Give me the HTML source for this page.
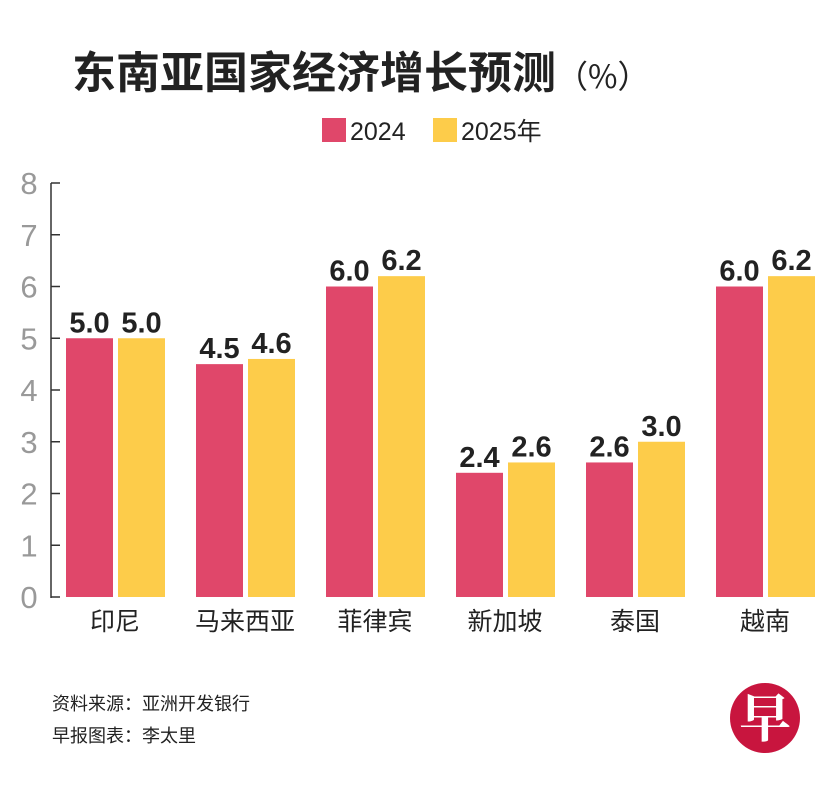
<!DOCTYPE html>
<html><head><meta charset="utf-8"><style>
body{margin:0;background:#fff;width:834px;height:787px;overflow:hidden;font-family:"Liberation Sans","Noto Sans CJK SC",sans-serif}
</style></head><body>
<svg width="834" height="787" xmlns="http://www.w3.org/2000/svg" id="chart">
<text x="72" y="88" font-size="44" font-weight="bold" fill="#222" font-family="Liberation Sans,Noto Sans CJK SC,sans-serif">东南亚国家经济增长预测<tspan font-size="32" font-weight="normal" font-family="Noto Sans CJK SC,sans-serif">（%）</tspan></text>
<g>
<rect x="322" y="118" width="24" height="24" fill="#e0476a"/>
<text x="350" y="140" font-size="25" fill="#222">2024</text>
<rect x="433" y="118" width="24" height="24" fill="#fdcc4a"/>
<text x="461" y="140" font-size="25" fill="#222" font-family="Liberation Sans,Noto Sans CJK SC,sans-serif">2025年</text>
</g>
<line x1="51" y1="183" x2="51" y2="598" stroke="#333" stroke-width="1.5"/>
<g id="ticks"></g><g id="bars"></g>
<text x="52" y="710" font-size="18" fill="#222" font-family="Liberation Sans,Noto Sans CJK SC,sans-serif">资料来源：亚洲开发银行</text>
<text x="52" y="742" font-size="18" fill="#222" font-family="Liberation Sans,Noto Sans CJK SC,sans-serif">早报图表：李太里</text>
<g>
<circle cx="765" cy="718" r="35" fill="#c8153e"/>
<text x="765" y="737" font-size="52" font-weight="bold" fill="#fff" text-anchor="middle" font-family="Noto Serif CJK SC,serif">早</text>
</g>
</svg>
<script>
const categories=["印尼","马来西亚","菲律宾","新加坡","泰国","越南"];
const values2024=[5.0,4.5,6.0,2.4,2.6,6.0];
const values2025=[5.0,4.6,6.2,2.6,3.0,6.2];
const yTicks=[0,1,2,3,4,5,6,7,8];
const NS="http://www.w3.org/2000/svg";
const y0=597,yTop=183;
function y(v){return y0-(v/8)*(y0-yTop);}
function gx(i){return 66+i*130;}
const svg=document.getElementById('chart');
const tg=document.getElementById('ticks'),bg=document.getElementById('bars');
function mk(tag,attrs,parent,text){const e=document.createElementNS(NS,tag);for(const k in attrs)e.setAttribute(k,attrs[k]);if(text!==undefined)e.textContent=text;parent.appendChild(e);return e;}
yTicks.forEach(t=>{
 const l=mk('line',{x1:51,x2:60,y1:y(t),y2:y(t),stroke:'#333','stroke-width':1.5},tg);
 
 
 const tx=mk('text',{x:29,y:y(t)+11,'font-size':31,fill:'#999','text-anchor':'middle'},tg,String(t));
 
 
});
categories.forEach((c,i)=>{
 const x=gx(i);
 [[values2024[i],'#e0476a',x,'2024'],[values2025[i],'#fdcc4a',x+52,'2025']].forEach(([v,col,bx,s])=>{
  const r=mk('rect',{x:bx,y:y(v),width:47,height:y0-y(v),fill:col},bg);
  
  
  const t=mk('text',{x:bx+23.5,y:y(v)-6,'font-size':29,'font-weight':'bold',fill:'#222','text-anchor':'middle'},bg,v.toFixed(1));
  
  
 });
 const cl=mk('text',{x:x+49,y:630,'font-size':25,fill:'#222','text-anchor':'middle','font-family':'Liberation Sans,Noto Sans CJK SC,sans-serif'},bg,c);
 
 
});
</script>
</body></html>
